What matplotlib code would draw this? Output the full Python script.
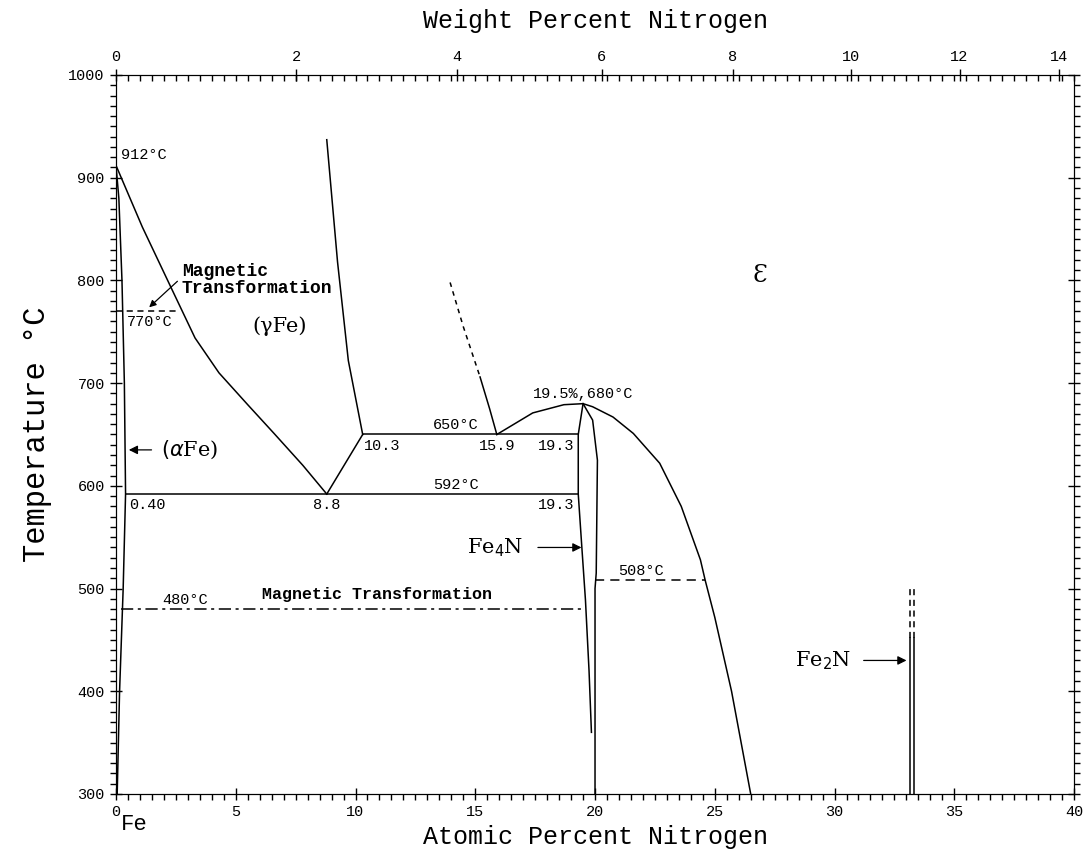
import numpy as np
import matplotlib.pyplot as plt

# Fe-N phase diagram (atomic % N vs temperature)

# alpha / (alpha+gamma) solvus
alpha_x = [0.0, 0.12, 0.25, 0.35, 0.40, 0.30, 0.15, 0.05]
alpha_t = [912, 880, 800, 700, 592, 500, 400, 300]

# gamma / (alpha+gamma) boundary, 912 -> eutectoid
a3_x = [0.0, 1.1, 2.3, 3.3, 4.3, 5.5, 6.6, 7.8, 8.8]
a3_t = [912, 852, 793, 744, 710, 679, 651, 620, 592]

# gamma / (gamma+Fe4N) boundary
g2_x = [8.8, 10.3]
g2_t = [592, 650]

# gamma / (gamma+eps) boundary
g3_x = [8.8, 9.25, 9.7, 10.3]
g3_t = [937, 818, 722, 650]

# (gamma+eps) / eps boundary
ge_dash_x = [13.95, 14.5, 15.2]
ge_dash_t = [798, 755, 706]
ge_x = [15.2, 15.6, 15.9]
ge_t = [706, 675, 650]

# eps dome
eps_x = [15.9, 17.4, 18.7, 19.5, 19.9, 20.75, 21.6, 22.7, 23.6, 24.4, 24.6, 25.0, 25.7, 26.5]
eps_t = [650, 671, 679, 680, 677, 667, 651, 622, 580, 528, 508, 472, 400, 300]

# Fe4N phase boundaries
fe4n_l_x = [19.5, 19.3, 19.3, 19.45, 19.6, 19.75, 19.85]
fe4n_l_t = [680, 650, 592, 540, 489, 420, 360]
fe4n_r_x = [19.5, 19.9, 20.1, 20.05, 20.0, 20.0]
fe4n_r_t = [680, 664, 625, 515, 500, 300]

# Fe2N
fe2n_x = [33.15, 33.3]
fe2n_solid = [300, 452]
fe2n_dash = [452, 500]

# invariant lines
iso_650 = (10.3, 19.3, 650)
iso_592 = (0.40, 19.3, 592)
mag_770 = (0.0, 2.6, 770)
mag_480 = (0.2, 19.6, 480)
mag_508 = (20.0, 24.6, 508)

wt_ticks = [0, 2, 4, 6, 8, 10, 12, 14]


def wt_to_at(w):
    n = w / 14.007
    fe = (100 - w) / 55.845
    return 100 * n / (n + fe)


mono = 'Liberation Mono'
serif = 'DejaVu Serif'

fig = plt.figure(figsize=(10.87, 8.59), dpi=100)
ax = fig.add_axes([0.1067, 0.0757, 0.8814, 0.837])
ax.set_xlim(0, 40)
ax.set_ylim(300, 1000)

lw = 1.1
k = 'black'
ax.plot(alpha_x, alpha_t, color=k, lw=lw)
ax.plot(a3_x, a3_t, color=k, lw=lw)
ax.plot(g2_x, g2_t, color=k, lw=lw)
ax.plot(g3_x, g3_t, color=k, lw=lw)
ax.plot(ge_dash_x, ge_dash_t, color=k, lw=lw, ls=(0, (3, 3)))
ax.plot(ge_x, ge_t, color=k, lw=lw)
ax.plot(eps_x, eps_t, color=k, lw=lw)
ax.plot(fe4n_l_x, fe4n_l_t, color=k, lw=lw)
ax.plot(fe4n_r_x, fe4n_r_t, color=k, lw=lw)
for x in fe2n_x:
    ax.plot([x, x], fe2n_solid, color=k, lw=lw)
    ax.plot([x, x], fe2n_dash, color=k, lw=lw, ls=(0, (4, 3)))

for x0, x1, t in (iso_650, iso_592):
    ax.plot([x0, x1], [t, t], color=k, lw=lw)
ax.plot([mag_770[0], mag_770[1]], [mag_770[2]] * 2, color=k, lw=lw, ls=(0, (4, 3)))
ax.plot([mag_480[0], mag_480[1]], [mag_480[2]] * 2, color=k, lw=lw, ls=(0, (8, 3, 2, 3)))
ax.plot([mag_508[0], mag_508[1]], [mag_508[2]] * 2, color=k, lw=lw, ls=(0, (6, 4)))

# labels
fs = 11
ax.text(0.2, 915, '912°C', fontsize=fs, family=mono, va='bottom')
ax.text(0.45, 766, '770°C', fontsize=fs, family=mono, va='top')
ax.text(2.75, 800, 'Magnetic\nTransformation', fontsize=13, family=mono,
        va='center', linespacing=1.0, fontweight='bold')
ax.annotate('', xy=(1.3, 772), xytext=(2.65, 801),
            arrowprops=dict(arrowstyle='-|>', color=k, lw=0.9, mutation_scale=10))
ax.text(6.85, 755, '(γFe)', fontsize=15, family=serif, ha='center', va='center')
ax.text(26.9, 805, 'Ɛ', fontsize=17, family=serif, ha='center', va='center')
ax.text(14.2, 652, '650°C', fontsize=fs, family=mono, ha='center', va='bottom')
ax.text(10.35, 646, '10.3', fontsize=fs, family=mono, ha='left', va='top')
ax.text(15.9, 646, '15.9', fontsize=fs, family=mono, ha='center', va='top')
ax.text(19.15, 646, '19.3', fontsize=fs, family=mono, ha='right', va='top')
ax.text(14.2, 594, '592°C', fontsize=fs, family=mono, ha='center', va='bottom')
ax.text(0.55, 588, '0.40', fontsize=fs, family=mono, ha='left', va='top')
ax.text(8.8, 588, '8.8', fontsize=fs, family=mono, ha='center', va='top')
ax.text(19.15, 588, '19.3', fontsize=fs, family=mono, ha='right', va='top')
ax.text(19.5, 683, '19.5%,680°C', fontsize=fs, family=mono, ha='center', va='bottom')
ax.text(2.9, 482, '480°C', fontsize=fs, family=mono, ha='center', va='bottom')
ax.text(10.9, 487, 'Magnetic Transformation', fontsize=12, family=mono,
        ha='center', va='bottom', fontweight='bold')
ax.text(21.9, 510, '508°C', fontsize=fs, family=mono, ha='center', va='bottom')

ax.text(1.9, 635, r'$(\alpha$Fe)', fontsize=15, family=serif, va='center')
ax.annotate('', xy=(0.42, 635), xytext=(1.6, 635),
            arrowprops=dict(arrowstyle='-|>', color=k, lw=0.9, mutation_scale=13))
ax.text(17.0, 540, r'Fe$_4$N', fontsize=15, family=serif, ha='right', va='center')
ax.annotate('', xy=(19.55, 540), xytext=(17.5, 540),
            arrowprops=dict(arrowstyle='-|>', color=k, lw=0.9, mutation_scale=13))
ax.text(30.7, 430, r'Fe$_2$N', fontsize=15, family=serif, ha='right', va='center')
ax.annotate('', xy=(33.12, 430), xytext=(31.1, 430),
            arrowprops=dict(arrowstyle='-|>', color=k, lw=0.9, mutation_scale=13))

# axes styling
ax.set_xticks(np.arange(0, 41, 5))
ax.set_xticks(np.arange(0, 40.1, 0.5), minor=True)
ax.set_yticks(np.arange(300, 1001, 100))
ax.set_yticks(np.arange(300, 1001, 10), minor=True)
ax.tick_params(axis='both', which='major', direction='inout', length=9, width=1,
               labelsize=11, right=True)
ax.tick_params(axis='both', which='minor', direction='out', length=4, width=1, right=True)
for lab in ax.get_xticklabels() + ax.get_yticklabels():
    lab.set_family(mono)
ax.set_xlabel('Atomic Percent Nitrogen', fontsize=18, family=mono, labelpad=4)
ax.set_ylabel('Temperature °C', fontsize=22, family=mono, labelpad=12)
fig.text(121 / 1087, 1 - 824 / 859, 'Fe', fontsize=16, family=mono, va='center')

top = ax.twiny()
top.set_xlim(0, 40)
top.set_xticks([wt_to_at(w) for w in wt_ticks])
top.set_xticklabels([str(w) for w in wt_ticks], family=mono, fontsize=11)
top.set_xticks(np.arange(0, 40.1, 0.5), minor=True)
top.tick_params(axis='x', which='major', direction='inout', length=9, width=1)
top.tick_params(axis='x', which='minor', direction='in', length=4, width=1)
top.set_xlabel('Weight Percent Nitrogen', fontsize=18, family=mono, labelpad=16)

plt.savefig('out.png', dpi=100)
